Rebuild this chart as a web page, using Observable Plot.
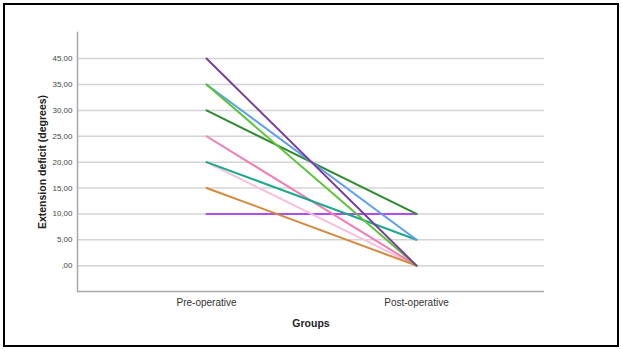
<!DOCTYPE html>
<html>
<head>
<meta charset="utf-8">
<script src="https://cdn.jsdelivr.net/npm/d3@7"></script>
<script src="https://cdn.jsdelivr.net/npm/@observablehq/plot@0.6"></script>
<style>
  html, body { margin: 0; padding: 0; background: #fff; }
  #wrap { position: relative; width: 621px; height: 349px; overflow: hidden; }
  #border { position: absolute; left: 3px; top: 3px; width: 612px; height: 340px; border: 2.5px solid #000; pointer-events: none; }
  svg { font-family: "Liberation Sans", Arial, sans-serif; }
</style>
</head>
<body>
<div id="wrap"><div id="border"></div></div>
<script>
const groups = ["Pre-operative", "Post-operative"];
const patients = ["P1","P2","P3","P4","P5","P6","P7","P8","P9"];
const preValues  = [10, 20, 25, 15, 20, 30, 35, 35, 45];
const postValues = [10,  0,  0,  0,  5, 10,  5,  0,  0];
const lineColors = ["#b24cf2", "#f8bfdf", "#f27db4", "#d4893d", "#1ba98c", "#2f8a2f", "#5e9ef0", "#5cc43b", "#7a3f9c"];
const yTicks = [0, 5, 10, 15, 20, 25, 30, 35, 45];
const yLabel = "Extension deficit (degrees)";
const xLabel = "Groups";

const rows = [];
patients.forEach((p, i) => {
  rows.push({id: p, group: groups[0], value: preValues[i]});
  rows.push({id: p, group: groups[1], value: postValues[i]});
});

const fmt = d => d === 0 ? ",00" : d.toFixed(2).replace(".", ",");

const chart = Plot.plot({
  width: 621,
  height: 349,
  marginTop: 32,
  marginBottom: 58,
  marginLeft: 77,
  marginRight: 77,
  style: {fontFamily: '"Liberation Sans", Arial, sans-serif', background: "transparent"},
  x: {type: "point", domain: groups, range: [206, 416], padding: 0},
  y: {type: "linear", domain: [-5, 35, 55], range: [291, 84, 32]},
  color: {domain: patients, range: lineColors},
  marks: [
    Plot.ruleY(yTicks, {stroke: "#d4d4d4", strokeWidth: 1.5}),
    Plot.ruleY([-5], {stroke: "#a8a8a8", strokeWidth: 1.5}),
    Plot.frame({anchor: "left", stroke: "#a8a8a8", strokeWidth: 1.5}),
    Plot.axisY(yTicks, {tickSize: 0, tickPadding: 5, tickFormat: fmt, fontSize: 8, fill: "#444",
      label: yLabel, labelArrow: false, labelAnchor: "center", labelOffset: 39}),
    Plot.axisX({tickSize: 0, tickPadding: 7, fontSize: 10, fill: "#333",
      label: xLabel, labelArrow: false, labelAnchor: "center", labelOffset: 35}),
    Plot.line(rows, {x: "group", y: "value", z: "id", stroke: "id", strokeWidth: 2, curve: "linear"})
  ]
});
document.getElementById("wrap").insertBefore(chart, document.getElementById("border"));

// bold axis titles
d3.select(chart).selectAll("[aria-label='y-axis label'] text, [aria-label='x-axis label'] text")
  .attr("font-weight", "bold").attr("font-size", 10.5).attr("fill", "#222");
</script>
</body>
</html>
